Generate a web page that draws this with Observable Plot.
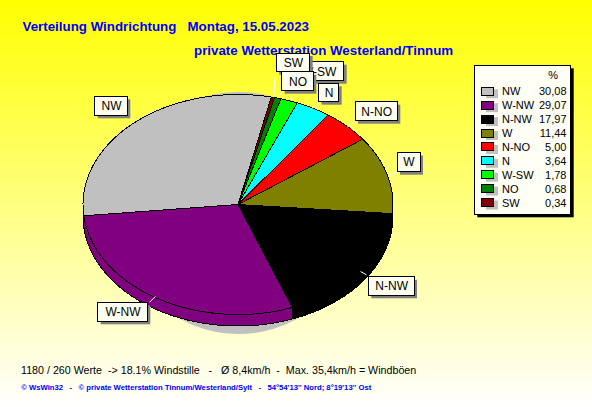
<!DOCTYPE html>
<html><head><meta charset="utf-8">
<script src="https://cdn.jsdelivr.net/npm/d3@7"></script>
<script src="https://cdn.jsdelivr.net/npm/@observablehq/plot@0.6"></script>
<style>
html,body{margin:0;padding:0;background:#fff}
svg{display:block}
</style></head><body>
<script>
// Data
const directions = ["NW","W-NW","N-NW","W","N-NO","N","W-SW","NO","SW"];
const percents = [30.08,29.07,17.97,11.44,5.00,3.64,1.78,0.68,0.34];
const percentLabels = ["30,08","29,07","17,97","11,44","5,00","3,64","1,78","0,68","0,34"];
const colors = ["#c0c0c0","#800080","#000000","#808000","#ff0000","#00ffff","#00ff00","#008000","#800000"];
const titleText = "Verteilung Windrichtung   Montag, 15.05.2023";
const subtitleText = "private Wetterstation Westerland/Tinnum";
const statsText = "1180 / 260 Werte  -> 18.1% Windstille   -   Ø 8,4km/h  -  Max. 35,4km/h = Windböen";
const footerText = "© WsWin32   -   © private Wetterstation Tinnum/Westerland/Sylt   -   54°54'13'' Nord; 8°19'13'' Ost";

// Layout
const W = 592, H = 407, FONT = "Liberation Sans, Arial, sans-serif";
const pie = {cx: 237.5, cy: 204, rx: 155, ry: 110, depth: 11.5, start: 12.4};
const shadow = {x: 238, y: 212.5, r: 121};
const labelLayout = [
  {name:"W-SW", box:[293.7,61.7,343.7,80.7], lead:[291.7,91.7,290,100]},
  {name:"N",    box:[318.5,83.3,338.7,101.7], lead:[318.7,101.7,310,109.3]},
  {name:"N-NO", box:[355,101.7,397.3,120.7], lead:[355,120.7,346.7,126.7]},
  {name:"W",    box:[397,152.5,420,171.7], lead:[396.7,171.7,387.7,175]},
  {name:"N-NW", box:[368.3,276.7,414,295.3], lead:[366,274.3,360,271]},
  {name:"W-NW", box:[97.7,302.3,147.3,321.3], lead:[149,301.7,155,296]},
  {name:"NW",   box:[94.7,96.3,127.3,115.3], lead:[128,115,133,120]},
  {name:"SW",   box:[276.3,53,309.7,71.7], lead:[275,72.7,273.3,96.7]},
  {name:"NO",   box:[281.7,71.7,313.3,90.7], lead:[281.7,90.7,278.3,96.7]}
];
const legendBox = {x1:474.3, y1:65.3, x2:570.7, y2:214.3, top:91.3, step:13.9};

// Geometry derived from the values
const pt = (deg, dy = 0) => {
  const a = deg * Math.PI / 180;
  return {x: pie.cx + pie.rx * Math.sin(a), y: pie.cy - pie.ry * Math.cos(a) + dy};
};
const arc = (a0, a1, dy = 0) => {
  const n = Math.max(2, Math.ceil(Math.abs(a1 - a0))), out = [];
  for (let i = 0; i <= n; i++) out.push(pt(a0 + (a1 - a0) * i / n, dy));
  return out;
};
const total = d3.sum(percents);
let angle = pie.start;
const slices = directions.map((name, i) => ({name, value: percents[i], i})).reverse().map(s => {
  const a0 = angle; angle += s.value / total * 360;
  return {...s, a0, a1: angle};
});
const center = {x: pie.cx, y: pie.cy};
const topRows = slices.flatMap(s => [center, ...arc(s.a0, s.a1), center].map(p => ({...p, name: s.name})));
const sideRows = slices.flatMap(s => {
  const a0 = Math.max(s.a0, 90), a1 = Math.min(s.a1, 270);
  if (a1 - a0 < 10) return [];
  const ring = [...arc(a0, a1), ...arc(a1, a0, pie.depth)];
  return [...ring, ring[0]].map(p => ({...p, name: s.name}));
});
const legendRows = directions.map((name, i) => ({
  name, pct: percentLabels[i],
  y: legendBox.top + i * legendBox.step
}));

const rect = (b, dx, dy, opts) => Plot.rect([b], {
  x1: d => d[0] + dx, y1: d => d[1] + dy, x2: d => d[2] + dx, y2: d => d[3] + dy, ...opts
});
const labelMarks = labelLayout.flatMap(l => [
  rect(l.box, 3, 3, {fill: "#808080"}),
  rect(l.box, 0, 0, {fill: "#fffff0", stroke: "#000", strokeWidth: 1, shapeRendering: "crispEdges"}),
  Plot.text([l], {
    x: d => (d.box[0] + d.box[2]) / 2, y: d => (d.box[1] + d.box[3]) / 2,
    text: "name", fontSize: 12, fontFamily: FONT, fill: "#000"
  })
]);

const chart = Plot.plot({
  width: W, height: H,
  marginTop: 0, marginRight: 0, marginBottom: 0, marginLeft: 0,
  x: {domain: [0, W], range: [0, W], axis: null},
  y: {domain: [0, H], range: [0, H], axis: null},
  color: {domain: directions, range: colors},
  style: {background: "linear-gradient(to bottom,#ffff00,#ffffff)", whiteSpace: "pre", overflow: "hidden"},
  marks: [
    Plot.dot([shadow], {x: "x", y: "y", r: shadow.r, fill: "#c0c0c0", stroke: "none"}),
    Plot.line(sideRows, {x: "x", y: "y", z: "name", fill: "name", stroke: "#000", strokeWidth: 1, curve: "linear", shapeRendering: "crispEdges"}),
    Plot.line(topRows, {x: "x", y: "y", z: "name", fill: "name", stroke: "#000", strokeWidth: 1, curve: "linear", shapeRendering: "crispEdges"}),
    Plot.text([titleText], {x: 22, y: 30, text: d => d, textAnchor: "start", lineAnchor: "bottom", fill: "#0000ff", fontWeight: "bold", fontSize: 13.33, fontFamily: FONT}),
    Plot.text([subtitleText], {x: 193.5, y: 54, text: d => d, textAnchor: "start", lineAnchor: "bottom", fill: "#0000ff", fontWeight: "bold", fontSize: 13.33, fontFamily: FONT}),
    Plot.link(labelLayout, {x1: d => d.lead[0], y1: d => d.lead[1], x2: d => d.lead[2], y2: d => d.lead[3], stroke: "#fff", strokeWidth: 1}),
    ...labelMarks,
    Plot.rect([legendBox], {x1: d => d.x1 + 3, y1: d => d.y1 + 3, x2: d => d.x2 + 3, y2: d => d.y2 + 3, fill: "#000"}),
    Plot.rect([legendBox], {x1: "x1", y1: "y1", x2: "x2", y2: "y2", fill: "#fffff5", stroke: "#000", shapeRendering: "crispEdges"}),
    Plot.text(["%"], {x: 552.7, y: 75, text: d => d, fontSize: 11, fontFamily: FONT, fill: "#000"}),
    Plot.rect(legendRows, {x1: 486, x2: 498, y1: d => d.y - 2, y2: d => d.y + 7, fill: "#c0c0c0"}),
    Plot.rect(legendRows, {x1: 481.5, x2: 493.5, y1: d => d.y - 4, y2: d => d.y + 4, fill: "name", stroke: "#000", shapeRendering: "crispEdges"}),
    Plot.text(legendRows, {x: 501.5, y: "y", text: "name", textAnchor: "start", fontSize: 11, fontFamily: FONT, fill: "#000"}),
    Plot.text(legendRows, {x: 566, y: "y", text: "pct", textAnchor: "end", fontSize: 11, fontFamily: FONT, fill: "#000"}),
    Plot.text([statsText], {x: 20.5, y: 373, text: d => d, textAnchor: "start", lineAnchor: "bottom", fill: "#000", fontSize: 10.7, fontFamily: FONT}),
    Plot.text([footerText], {x: 20.7, y: 389, text: d => d, textAnchor: "start", lineAnchor: "bottom", fill: "#0000ff", fontWeight: "bold", fontSize: 7.7, fontFamily: FONT})
  ]
});
document.body.appendChild(chart);
</script>
</body></html>
